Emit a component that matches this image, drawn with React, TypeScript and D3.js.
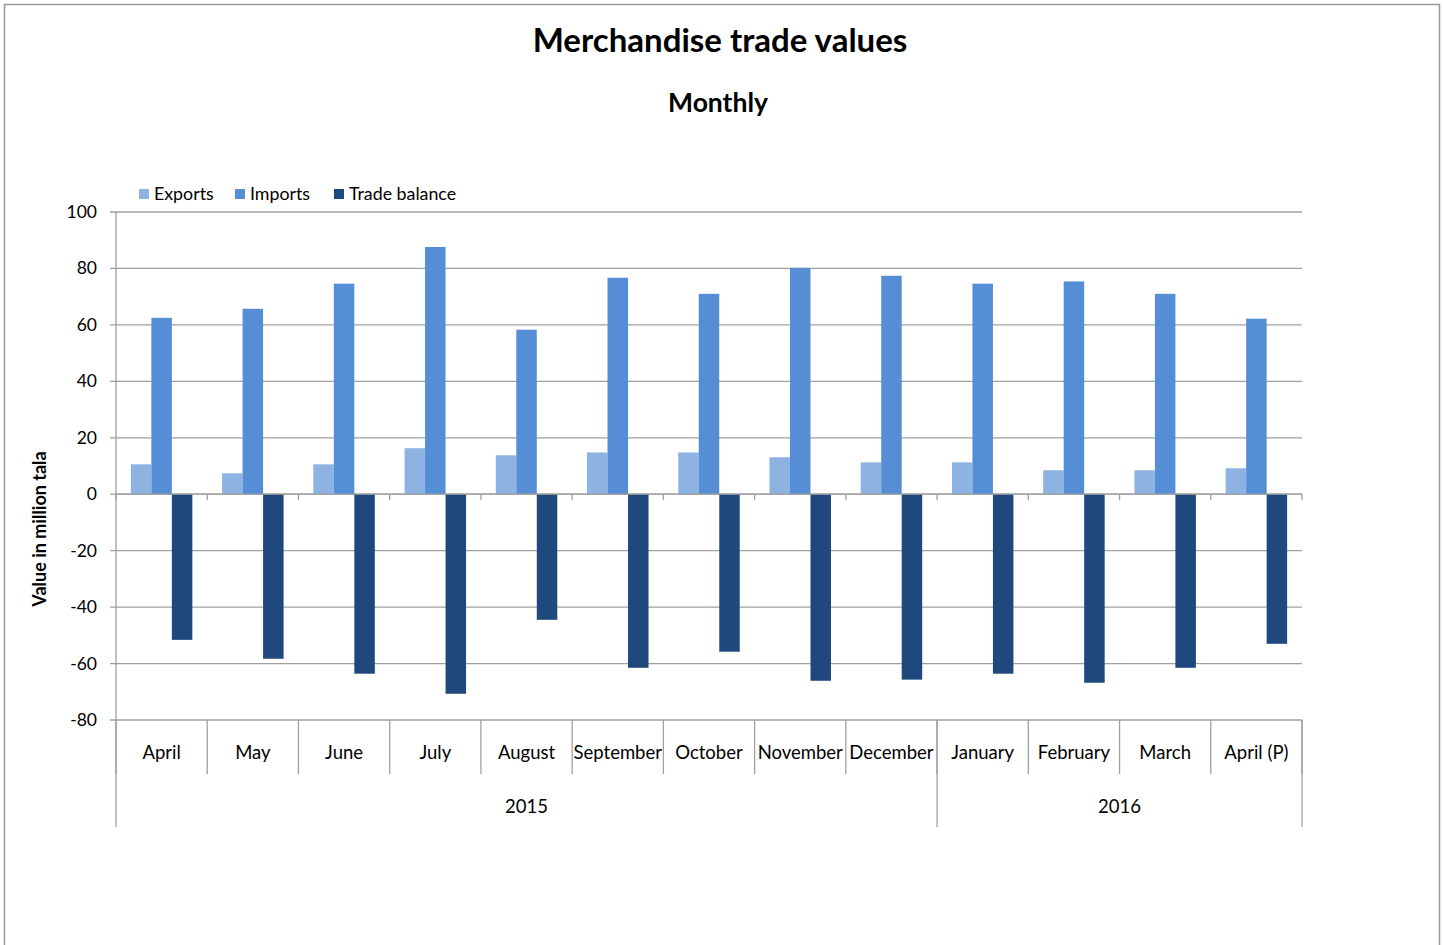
import React from "react";
import * as d3 from "d3";

const months = [
  "April", "May", "June", "July", "August", "September", "October",
  "November", "December", "January", "February", "March", "April (P)",
];
const years = [
  { label: "2015", count: 9 },
  { label: "2016", count: 4 },
];
const seriesNames = ["Exports", "Imports", "Trade balance"];
const seriesColors = ["#8db3e2", "#558ed5", "#1f497d"];

const exportsValues = [10.6, 7.4, 10.6, 16.3, 13.8, 14.8, 14.8, 13.1, 11.3, 11.3, 8.5, 8.5, 9.2];
const importsValues = [62.5, 65.7, 74.6, 87.6, 58.3, 76.7, 71.0, 80.2, 77.4, 74.6, 75.4, 71.0, 62.2];
const balanceValues = [-51.6, -58.3, -63.6, -70.7, -44.5, -61.5, -55.8, -66.1, -65.7, -63.6, -66.8, -61.5, -53.0];

const yTicks = [100, 80, 60, 40, 20, 0, -20, -40, -60, -80];

const W = 1443;
const H = 945;
const font = "Lato, 'Open Sans', sans-serif";
const gridColor = "#a0a0a0";

const App: React.FC = () => {
  const left = 116;
  const right = 1302;
  const top = 212;
  const bottom = 720;

  const y = d3.scaleLinear().domain([-80, 100]).range([bottom, top]);
  const x = d3
    .scaleBand<number>()
    .domain(d3.range(months.length))
    .range([left, right])
    .paddingInner(0.326)
    .paddingOuter(0.163);
  const xs = d3.scaleBand<number>().domain([0, 1, 2]).range([0, x.bandwidth()]);
  const step = x.step();

  const allSeries = [exportsValues, importsValues, balanceValues];
  const y0 = y(0);

  // year boundaries in category index
  let acc = 0;
  const yearSpans = years.map((yr) => {
    const s = acc;
    acc += yr.count;
    return { ...yr, start: s, end: acc };
  });
  const edge = (i: number) => left + i * step;

  return (
    <svg
      width={W}
      height={H}
      style={{ position: "absolute", left: 0, top: 0 }}
      fontFamily={font}
    >
      <rect x={0} y={0} width={W} height={H} fill="#fff" />
      {/* chart frame */}
      <path d={`M4.5,${H} V4.5 H1439.5 V${H}`} fill="none" stroke="#999" strokeWidth={1.5} />

      <text x={720} y={52} textAnchor="middle" fontSize={33} fontWeight="bold" fill="#000">
        Merchandise trade values
      </text>
      <text x={718} y={112} textAnchor="middle" fontSize={26.5} fontWeight="bold" fill="#000">
        Monthly
      </text>

      {/* legend */}
      {seriesNames.map((name, i) => {
        const lx = [139, 235, 334][i];
        return (
          <g key={name}>
            <rect x={lx} y={189} width={10} height={10} fill={seriesColors[i]} />
            <text x={lx + 15} y={200} fontSize={17.8} fill="#000">
              {name}
            </text>
          </g>
        );
      })}

      {/* gridlines */}
      {yTicks.map((t) => (
        <g key={t}>
          <line x1={left - 6} x2={right} y1={y(t)} y2={y(t)} stroke={gridColor} strokeWidth={1.3} />
          <text x={97} y={y(t) + 6} textAnchor="end" fontSize={17.5} fill="#000">
            {t}
          </text>
        </g>
      ))}

      {/* y axis */}
      <line x1={left} x2={left} y1={top} y2={827} stroke={gridColor} strokeWidth={1.3} />
      <text
        transform={`translate(46,529) rotate(-90)`}
        textAnchor="middle"
        fontSize={18}
        fontWeight="bold"
        fill="#000"
      >
        Value in million tala
      </text>

      {/* bars */}
      {allSeries.map((vals, si) =>
        vals.map((v, i) => {
          const bx = (x(i) ?? 0) + (xs(si) ?? 0);
          return (
            <rect
              key={`${si}-${i}`}
              x={bx}
              y={Math.min(y(v), y0)}
              width={xs.bandwidth()}
              height={Math.abs(y(v) - y0)}
              fill={seriesColors[si]}
            />
          );
        })
      )}

      {/* zero line with ticks */}
      <line x1={left} x2={right} y1={y0} y2={y0} stroke={gridColor} strokeWidth={1.3} />
      {d3.range(months.length + 1).map((i) => (
        <line key={i} x1={edge(i)} x2={edge(i)} y1={y0} y2={y0 + 6} stroke={gridColor} strokeWidth={1.3} />
      ))}

      {/* category axis */}
      {d3.range(months.length + 1).map((i) => (
        <line key={i} x1={edge(i)} x2={edge(i)} y1={bottom} y2={774} stroke={gridColor} strokeWidth={1.3} />
      ))}
      {months.map((m, i) => (
        <text key={m} x={edge(i) + step / 2} y={759} textAnchor="middle" fontSize={18.5} fill="#000">
          {m}
        </text>
      ))}
      {yearSpans.map((yr) => (
        <g key={yr.label}>
          <line x1={edge(yr.end)} x2={edge(yr.end)} y1={bottom} y2={827} stroke={gridColor} strokeWidth={1.3} />
          <text
            x={(edge(yr.start) + edge(yr.end)) / 2}
            y={813}
            textAnchor="middle"
            fontSize={18.5}
            fill="#000"
          >
            {yr.label}
          </text>
        </g>
      ))}
    </svg>
  );
};

export default App;
